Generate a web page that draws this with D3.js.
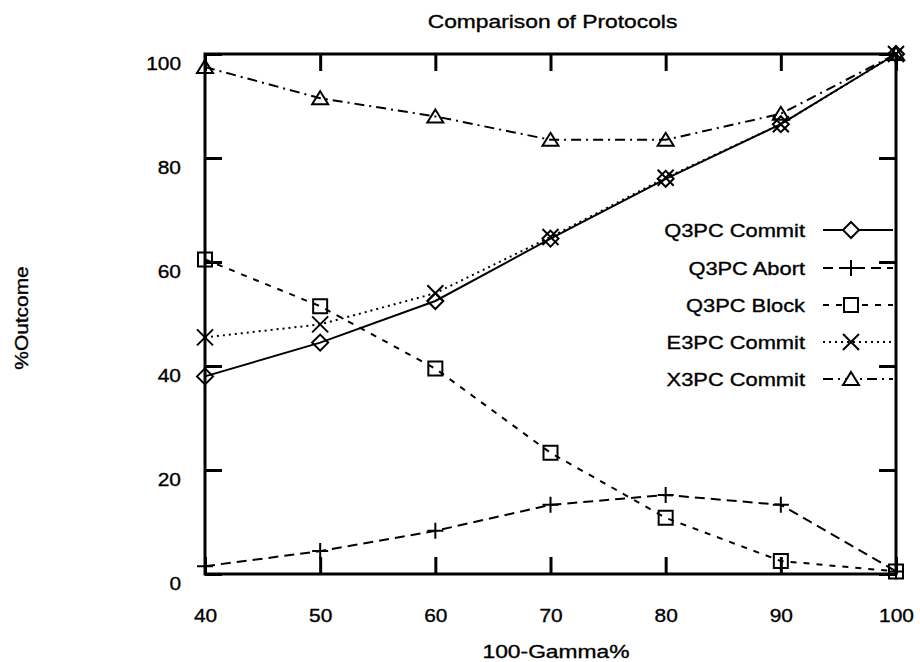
<!DOCTYPE html>
<html>
<head>
<meta charset="utf-8">
<script src="https://cdn.jsdelivr.net/npm/d3@7"></script>
<style>
  body { margin: 0; background: #fff; }
  svg { font-family: "Liberation Sans", Arial, sans-serif; }
  svg text { stroke: #000; stroke-width: 0.35px; }
</style>
</head>
<body>
<div></div>
<script>
const width = 920;
const height = 662;

// values
const gamma = [40, 50, 60, 70, 80, 90, 100];
const q3pcCommit = [38, 44.5, 52.5, 64.5, 76, 86.5, 100];
const q3pcAbort = [1.5, 4.4, 8.3, 13.3, 15.2, 13.3, 0.5];
const q3pcBlock = [60.5, 51.5, 39.5, 23.3, 10.8, 2.5, 0.5];
const e3pcCommit = [45.5, 48, 54, 64.8, 76.2, 86.5, 100];
const x3pcCommit = [97.5, 91.5, 88, 83.5, 83.5, 88.5, 100];

const seriesNames = ["Q3PC Commit", "Q3PC Abort", "Q3PC Block", "E3PC Commit", "X3PC Commit"];
const seriesValues = [q3pcCommit, q3pcAbort, q3pcBlock, e3pcCommit, x3pcCommit];
const xTicks = [40, 50, 60, 70, 80, 90, 100];
const yTicks = [0, 20, 40, 60, 80, 100];

const dashes = ["none", "10,6", "6,7", "2,4", "10,5,2,5"];
const markers = ["diamond", "plus", "square", "cross", "triangle"];

const plotLeft = 205, plotRight = 896, plotTop = 54, plotBottom = 574;
const fontSize = "19px";

const svg = d3
  .select("div")
  .append("svg")
  .attr("width", width)
  .attr("height", height);

const scale_X = d3.scaleLinear().domain([40, 100]).range([plotLeft, plotRight]);
const scale_Y = d3.scaleLinear().domain([0, 100]).range([plotBottom, plotTop]);

// stretch text horizontally like the scanned original
function stretch(sel, k) {
  sel.each(function () {
    const len = this.getComputedTextLength();
    d3.select(this).attr("textLength", len * k).attr("lengthAdjust", "spacingAndGlyphs");
  });
}

function axisStyle(g) {
  g.select(".domain").remove();
  g.selectAll(".tick line").attr("stroke", "#000").attr("stroke-width", 3);
  g.selectAll("text")
    .attr("fill", "#000")
    .style("font-size", fontSize)
    .style("font-family", "'Liberation Sans', Arial, sans-serif");
}

const xb = svg.append("g")
  .attr("transform", "translate(0," + plotBottom + ")")
  .call(d3.axisBottom(scale_X).tickValues(xTicks).tickSizeInner(-17).tickSizeOuter(0).tickPadding(35))
  .call(axisStyle);
stretch(xb.selectAll("text"), 1.1);

svg.append("g")
  .attr("transform", "translate(0," + plotTop + ")")
  .call(d3.axisTop(scale_X).tickValues(xTicks).tickSizeInner(-17).tickSizeOuter(0).tickFormat(""))
  .call(axisStyle);

const yl = svg.append("g")
  .attr("transform", "translate(" + plotLeft + ",0)")
  .call(d3.axisLeft(scale_Y).tickValues(yTicks).tickSizeInner(-17).tickSizeOuter(0).tickPadding(24))
  .call(axisStyle);
yl.selectAll("text").attr("dy", "0.8em");
stretch(yl.selectAll("text"), 1.1);

svg.append("g")
  .attr("transform", "translate(" + plotRight + ",0)")
  .call(d3.axisRight(scale_Y).tickValues(yTicks).tickSizeInner(-17).tickSizeOuter(0).tickFormat(""))
  .call(axisStyle);

svg.append("rect")
  .attr("x", plotLeft)
  .attr("y", plotTop)
  .attr("width", plotRight - plotLeft)
  .attr("height", plotBottom - plotTop)
  .attr("fill", "none")
  .attr("stroke", "#000")
  .attr("stroke-width", 3);

// titles
const title = svg.append("text")
  .text("Comparison of Protocols")
  .attr("x", (plotLeft + plotRight) / 2 + 2)
  .attr("y", 28)
  .attr("text-anchor", "middle")
  .style("font-size", fontSize);
stretch(title, 1.2);

const xTitle = svg.append("text")
  .text("100-Gamma%")
  .attr("x", 556)
  .attr("y", 658)
  .attr("text-anchor", "middle")
  .style("font-size", fontSize);
stretch(xTitle, 1.2);

const yTitle = svg.append("text")
  .text("%Outcome")
  .attr("transform", "translate(28,318) rotate(-90)")
  .attr("text-anchor", "middle")
  .style("font-size", fontSize);
stretch(yTitle, 1.1);

// marker shapes
function markerPath(type) {
  const s = 8;
  if (type === "diamond") return `M0,${-s}L${s},0L0,${s}L${-s},0Z`;
  if (type === "plus") return `M${-s},0H${s}M0,${-s}V${s}`;
  if (type === "square") return `M${-7},${-7}H7V7H${-7}Z`;
  if (type === "cross") return `M${-s},${-s}L${s},${s}M${s},${-s}L${-s},${s}`;
  return `M0,${-7}L8,6H-8Z`;
}

const line = d3.line()
  .x((d) => scale_X(d[0]))
  .y((d) => scale_Y(d[1]));

seriesValues.forEach((vals, i) => {
  const pts = gamma.map((g, j) => [g, vals[j]]);
  svg.append("path")
    .datum(pts)
    .attr("d", line)
    .attr("fill", "none")
    .attr("stroke", "#000")
    .attr("stroke-width", 2)
    .attr("stroke-dasharray", dashes[i]);

  svg.selectAll(".m" + i)
    .data(pts)
    .enter()
    .append("path")
    .attr("class", "m" + i)
    .attr("d", markerPath(markers[i]))
    .attr("transform", (d) => "translate(" + scale_X(d[0]) + "," + scale_Y(d[1]) + ")")
    .attr("fill", "none")
    .attr("stroke", "#000")
    .attr("stroke-width", 2);
});

// legend
const legendY = [230, 268, 305, 342, 379];
const legend = svg.append("g").attr("id", "legend");
seriesNames.forEach((name, i) => {
  const g = legend.append("g");
  const t = g.append("text")
    .text(name)
    .attr("x", 805)
    .attr("y", legendY[i] + 7)
    .attr("text-anchor", "end")
    .style("font-size", fontSize);
  stretch(t, 1.15);
  g.append("line")
    .attr("x1", 823)
    .attr("x2", 893)
    .attr("y1", legendY[i])
    .attr("y2", legendY[i])
    .attr("stroke", "#000")
    .attr("stroke-width", 2)
    .attr("stroke-dasharray", dashes[i]);
  g.append("path")
    .attr("d", markerPath(markers[i]))
    .attr("transform", "translate(851," + legendY[i] + ")")
    .attr("fill", "#fff")
    .attr("stroke", "#000")
    .attr("stroke-width", 2);
});
</script>
</body>
</html>
